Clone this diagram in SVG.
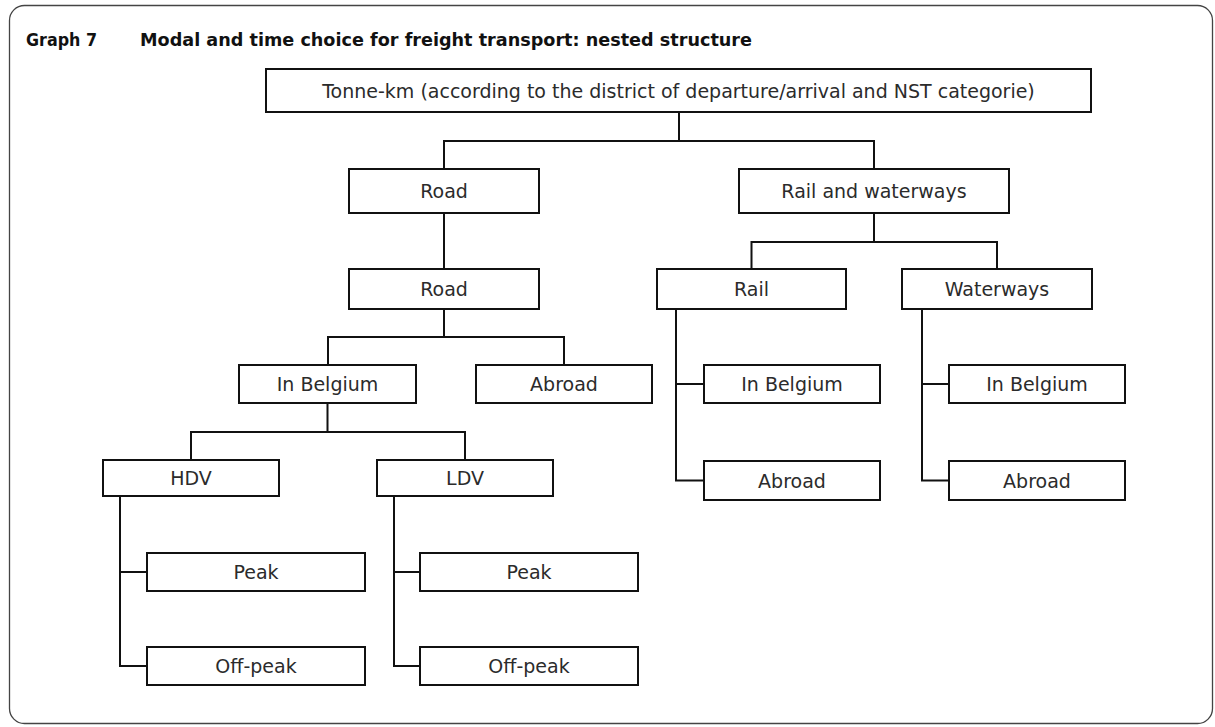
<svg xmlns="http://www.w3.org/2000/svg" width="1215" height="727" viewBox="0 0 1215 727">
<style>
.frame{fill:none;stroke:#444;stroke-width:1.3}
.box{fill:#fff;stroke:#111;stroke-width:2}
.lbl{font-family:"DejaVu Sans",Verdana,sans-serif;font-size:19px;fill:#2b2b2b;text-anchor:middle}
.title{font-family:"DejaVu Sans",Verdana,sans-serif;font-size:17.5px;font-weight:bold;fill:#111}
.conn{fill:none;stroke:#111;stroke-width:2}
</style>
<rect class="frame" x="9.5" y="5.5" width="1203" height="718" rx="15"/>
<text class="title" x="26" y="46" textLength="71" lengthAdjust="spacingAndGlyphs">Graph 7</text>
<text class="title" x="140" y="46" textLength="612" lengthAdjust="spacingAndGlyphs">Modal and time choice for freight transport: nested structure</text>
<g id="connectors">
<path class="conn" d="M679,112 V141 M444,169 V141 H874 V169"/>
<path class="conn" d="M444,213 V269"/>
<path class="conn" d="M444,309 V337 M328,365 V337 H564 V365"/>
<path class="conn" d="M327.5,403 V432 M191,460 V432 H465 V460"/>
<path class="conn" d="M120,496 V666 H147 M120,572 H147"/>
<path class="conn" d="M394,496 V666 H420 M394,572 H420"/>
<path class="conn" d="M874,213 V242 M751.5,269 V242 H997 V269"/>
<path class="conn" d="M676,309 V480.5 H704 M676,384 H704"/>
<path class="conn" d="M922,309 V480.5 H949 M922,384 H949"/>
</g>
<g id="tonne-km"><rect class="box" x="266" y="69" width="825" height="43"/><text class="lbl" x="678.5" y="97.5">Tonne-km (according to the district of departure/arrival and NST categorie)</text></g>
<g id="road1"><rect class="box" x="349" y="169" width="190" height="44"/><text class="lbl" x="444" y="198">Road</text></g>
<g id="rail-waterways"><rect class="box" x="739" y="169" width="270" height="44"/><text class="lbl" x="874" y="198">Rail and waterways</text></g>
<g id="road2"><rect class="box" x="349" y="269" width="190" height="40"/><text class="lbl" x="444" y="296">Road</text></g>
<g id="rail"><rect class="box" x="657" y="269" width="189" height="40"/><text class="lbl" x="751.5" y="296">Rail</text></g>
<g id="waterways"><rect class="box" x="902" y="269" width="190" height="40"/><text class="lbl" x="997" y="296">Waterways</text></g>
<g id="road-in-belgium"><rect class="box" x="239" y="365" width="177" height="38"/><text class="lbl" x="327.5" y="391">In Belgium</text></g>
<g id="road-abroad"><rect class="box" x="476" y="365" width="176" height="38"/><text class="lbl" x="564" y="391">Abroad</text></g>
<g id="rail-in-belgium"><rect class="box" x="704" y="365" width="176" height="38"/><text class="lbl" x="792" y="391">In Belgium</text></g>
<g id="rail-abroad"><rect class="box" x="704" y="461" width="176" height="39"/><text class="lbl" x="792" y="487.5">Abroad</text></g>
<g id="waterways-in-belgium"><rect class="box" x="949" y="365" width="176" height="38"/><text class="lbl" x="1037" y="391">In Belgium</text></g>
<g id="waterways-abroad"><rect class="box" x="949" y="461" width="176" height="39"/><text class="lbl" x="1037" y="487.5">Abroad</text></g>
<g id="hdv"><rect class="box" x="103" y="460" width="176" height="36"/><text class="lbl" x="191" y="485">HDV</text></g>
<g id="ldv"><rect class="box" x="377" y="460" width="176" height="36"/><text class="lbl" x="465" y="485">LDV</text></g>
<g id="hdv-peak"><rect class="box" x="147" y="553" width="218" height="38"/><text class="lbl" x="256" y="579">Peak</text></g>
<g id="hdv-off-peak"><rect class="box" x="147" y="647" width="218" height="38"/><text class="lbl" x="256" y="673">Off-peak</text></g>
<g id="ldv-peak"><rect class="box" x="420" y="553" width="218" height="38"/><text class="lbl" x="529" y="579">Peak</text></g>
<g id="ldv-off-peak"><rect class="box" x="420" y="647" width="218" height="38"/><text class="lbl" x="529" y="673">Off-peak</text></g>
</svg>
